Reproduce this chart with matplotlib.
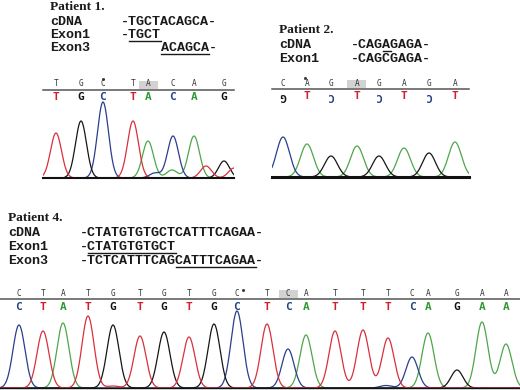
import matplotlib.pyplot as plt
import numpy as np
from matplotlib.patches import Rectangle

# base calls, peak positions (trace scan, px) and peak heights
p1_calls = "TGCTACAG"
p1_pos = [56, 81, 103, 133, 148, 173, 194, 224]
p1_height = [45, 57, 76, 57, 37, 42, 42, 17]
p1_extra_calls = "TTCA"
p1_extra_pos = [206, 234, 155, 172]
p1_extra_height = [12, 10, 5, 8]

p2_calls = "CAGAGAGA"
p2_lower = "GTCTCTCT"
p2_pos = [283, 307, 331, 357, 379, 404, 429, 455]
p2_height = [40, 33, 21, 31, 21, 29, 24, 35]

p4_calls = "CTATGTGTGCTCATTTCAGAA"
p4_pos = [19, 43, 63, 88, 113, 140, 164, 189, 214, 237, 267,
          288, 306, 335, 363, 388, 412, 428, 457, 482, 506]
p4_height = [63, 57, 65, 72, 63, 52, 56, 51, 64, 77, 64,
             39, 53, 57, 58, 50, 31, 55, 18, 66, 44]
p4_extra_calls = "CT"
p4_extra_pos = [386, 113]
p4_extra_height = [2.5, 2]

p1_lines = [("cDNA", "-TGCTACAGCA-", None),
            ("Exon1", "-TGCT", (1, 5)),
            ("Exon3", "     ACAGCA-", (5, 11))]
p2_lines = [("cDNA", "-CAGAGAGA-", (4, 5)),
            ("Exon1", "-CAGCGAGA-", None)]
p4_lines = [("cDNA", "-CTATGTGTGCTCATTTCAGAA-", None),
            ("Exon1", "-CTATGTGTGCT", (1, 12)),
            ("Exon3", "-TCTCATTTCAGCATTTCAGAA-", (12, 22))]

trace_colors = {"A": "#4ea64a", "C": "#2b3e8e", "G": "#161616", "T": "#d9303d"}
letter_colors = {"A": "#2f9a35", "C": "#24408a", "G": "#111111", "T": "#d0202f"}

W, H = 520, 390
fig = plt.figure(figsize=(5.2, 3.9), dpi=100)
ax0 = fig.add_axes([0, 0, 1, 1])
ax0.set_xlim(0, W)
ax0.set_ylim(H, 0)
ax0.axis("off")

seq_fs = 9.6
cw = 0.6 * seq_fs * 100 / 72


def header(title, lines, x_label, x_seq, y_title, ys):
    ax0.text(x_label, y_title, title, family="Liberation Serif", weight="bold",
             fontsize=9.6, va="baseline", color="#1a1a1a")
    for (name, seq, ul), y in zip(lines, ys):
        ax0.text(x_label, y, name, family="Liberation Mono", weight="bold",
                 fontsize=seq_fs, va="baseline", color="#1a1a1a")
        ax0.text(x_seq, y, seq, family="Liberation Mono", weight="bold",
                 fontsize=seq_fs, va="baseline", color="#1a1a1a")
        if ul:
            ax0.plot([x_seq + ul[0] * cw, x_seq + ul[1] * cw], [y + 2.5, y + 2.5],
                     color="#1a1a1a", lw=1.0)


def panel(x0, x1, base_y, line_y, calls, pos, heights, extra, sigma,
          top_y, low_y, hl, lower=None, base_lw=1.5, dot=None):
    ytop = line_y - 16
    ax = fig.add_axes([x0 / W, (H - base_y) / H, (x1 - x0) / W, (base_y - ytop) / H])
    ax.set_xlim(x0, x1)
    ax.set_ylim(0, base_y - ytop)
    ax.axis("off")

    all_calls = calls + extra[0]
    all_pos = list(pos) + list(extra[1])
    all_h = list(heights) + list(extra[2])
    x = np.linspace(x0, x1, 1200)
    for b in "ACGT":
        y = np.zeros_like(x)
        for c, p, h in zip(all_calls, all_pos, all_h):
            if c == b:
                y += h * np.exp(-(x - p) ** 2 / (2 * sigma ** 2))
        if y.max() > 0:
            ax.plot(x, y, color=trace_colors[b], lw=0.9)

    ax.plot([x0, x1], [0, 0], color="#111111", lw=base_lw, clip_on=False)
    ly = base_y - line_y
    ax.plot([x0, x1], [ly, ly], color="#555555", lw=1.1, clip_on=False)

    p = pos[hl]
    ax.add_patch(Rectangle((p - 9.5, ly + 1), 19, 8, color="#d2d2d2", lw=0))

    for i, (c, p) in enumerate(zip(calls, pos)):
        ax.text(p, base_y - top_y, c, family="DejaVu Sans Mono", fontsize=5.6,
                ha="center", va="center", color="#333333")
        lc = lower[i] if lower else c
        rot = 180 if (lower and lc in "GC") else 0
        ax.text(p, base_y - low_y, lc, family="DejaVu Sans Mono", weight="bold",
                fontsize=8, ha="center", va="center", color=letter_colors[lc],
                rotation=rot)
    if dot is not None:
        ax.plot(pos[dot[0]] + dot[1], base_y - top_y + dot[2], marker="s",
                ms=1.0, color="#333333", clip_on=False)
    return ax


header("Patient 1.", p1_lines, 50, 121, 10, [25, 38, 51])
header("Patient 2.", p2_lines, 279, 351, 33, [48, 62])
header("Patient 4.", p4_lines, 8, 80, 221, [236, 250, 264])

panel(43, 234, 178, 90, p1_calls, p1_pos, p1_height,
      (p1_extra_calls, p1_extra_pos, p1_extra_height), 5.5,
      84, 97.5, 4, base_lw=1.5, dot=(2, 0, 5))
panel(272, 469, 177, 89, p2_calls, p2_pos, p2_height, ("", [], []), 6.5,
      83, 96, 3, lower=p2_lower, base_lw=2.2, dot=(1, -2, 5))
panel(0, 520, 388, 299, p4_calls, p4_pos, p4_height,
      (p4_extra_calls, p4_extra_pos, p4_extra_height), 6.0,
      294, 307, 11, base_lw=1.0, dot=(9, 6, 4))

fig.savefig("out.png", dpi=100)
